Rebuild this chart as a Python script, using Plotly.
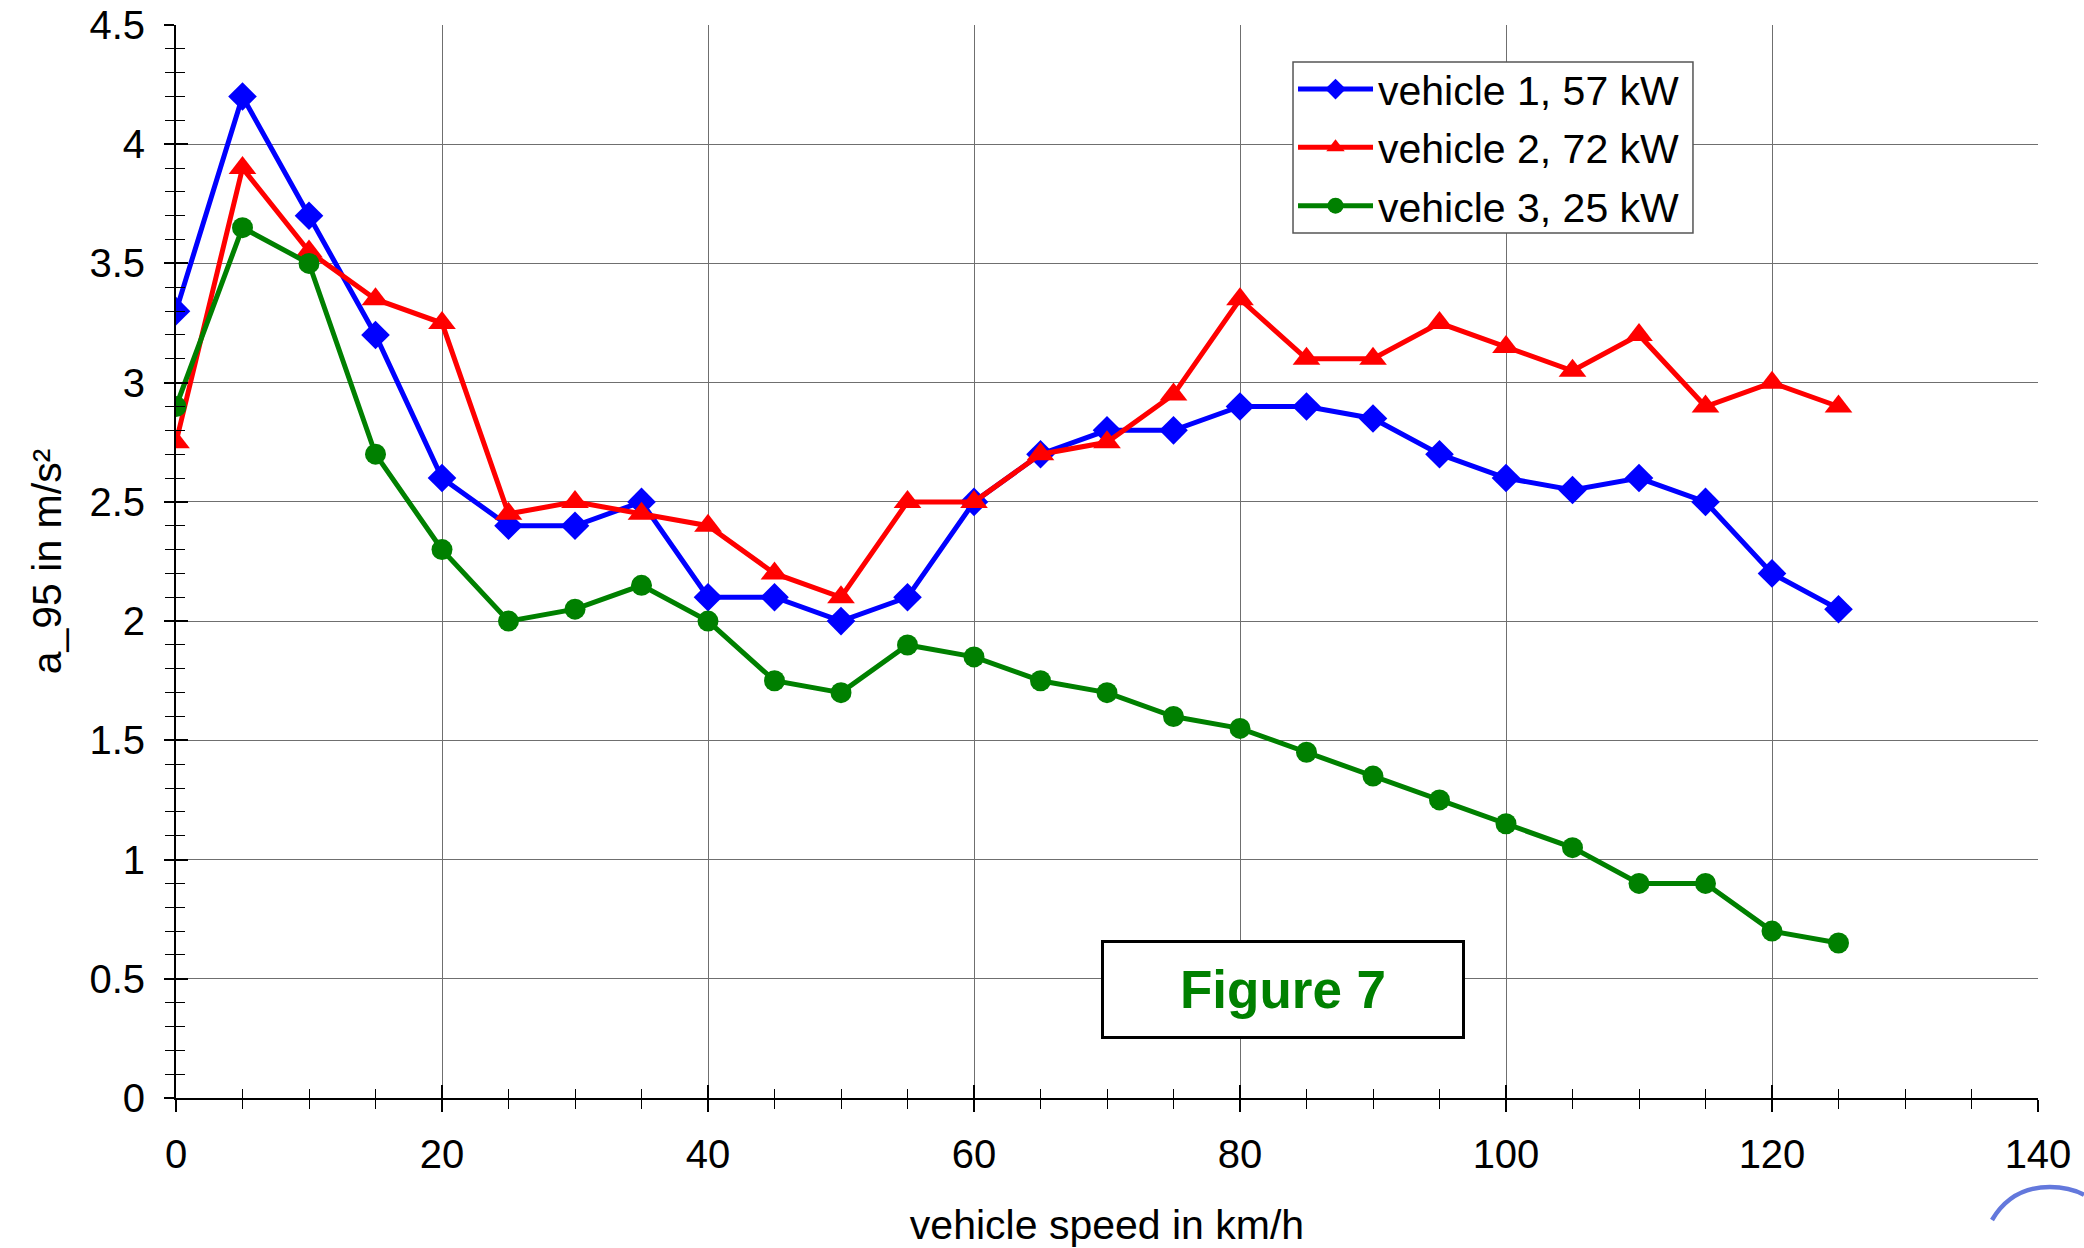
import plotly.graph_objects as go

# vehicle speed in km/h
speed = [0, 5, 10, 15, 20, 25, 30, 35, 40, 45, 50, 55, 60, 65,
         70, 75, 80, 85, 90, 95, 100, 105, 110, 115, 120, 125]

# a_95 in m/s² per vehicle
vehicle1 = [3.3, 4.2, 3.7, 3.2, 2.6, 2.4, 2.4, 2.5, 2.1, 2.1, 2.0, 2.1, 2.5, 2.7,
            2.8, 2.8, 2.9, 2.9, 2.85, 2.7, 2.6, 2.55, 2.6, 2.5, 2.2, 2.05]
vehicle2 = [2.75, 3.9, 3.55, 3.35, 3.25, 2.45, 2.5, 2.45, 2.4, 2.2, 2.1, 2.5, 2.5, 2.7,
            2.75, 2.95, 3.35, 3.1, 3.1, 3.25, 3.15, 3.05, 3.2, 2.9, 3.0, 2.9]
vehicle3 = [2.9, 3.65, 3.5, 2.7, 2.3, 2.0, 2.05, 2.15, 2.0, 1.75, 1.7, 1.9, 1.85, 1.75,
            1.7, 1.6, 1.55, 1.45, 1.35, 1.25, 1.15, 1.05, 0.9, 0.9, 0.7, 0.65]

series_names = ["vehicle 1, 57 kW", "vehicle 2, 72 kW", "vehicle 3, 25 kW"]

x_range = [0, 140]
y_range = [0, 4.5]

FONT = "Arial, Liberation Sans, sans-serif"
GRID = "#6f6f6f"

fig = go.Figure()

styles = [
    (vehicle1, "#0000ff", "diamond", 22),
    (vehicle2, "#ff0000", "triangle-up", 24),
    (vehicle3, "#008000", "circle", 21),
]
for i, (vals, color, symbol, size) in enumerate(styles):
    fig.add_trace(go.Scatter(
        x=speed, y=vals, name=series_names[i], mode="lines+markers",
        line=dict(color=color, width=5),
        marker=dict(symbol=symbol, size=size, color=color, line=dict(width=0)),
        legendgroup=f"g{i}",
    ))

# transparent trace that anchors the overlay axes carrying the inner tick halves
fig.add_trace(go.Scatter(
    x=speed, y=vehicle1, xaxis="x2", yaxis="y2", mode="markers",
    marker=dict(opacity=0), showlegend=False, hoverinfo="skip",
))

fig.update_layout(
    width=2084, height=1248,
    margin=dict(l=176, r=46, t=25, b=150, autoexpand=False),
    paper_bgcolor="white", plot_bgcolor="white",
    font=dict(family=FONT, color="black", size=40),
    showlegend=True,
    legend=dict(
        x=0.5999, y=0.9712, xanchor="left", yanchor="top",
        bgcolor="rgba(0,0,0,0)", borderwidth=0,
        font=dict(family=FONT, size=41, color="black"),
        tracegroupgap=2, itemwidth=75,
    ),
    xaxis=dict(
        range=x_range, dtick=20, tick0=0,
        showgrid=True, gridcolor=GRID, gridwidth=1.3,
        zeroline=False, showline=True, linecolor="black", linewidth=2,
        ticks="outside", ticklen=12, tickwidth=1.5, tickcolor="black",
        minor=dict(dtick=5, ticks="outside", ticklen=9, tickwidth=1.2,
                   tickcolor="black", showgrid=False),
        tickfont=dict(size=40), ticklabelstandoff=8,
        title=dict(text="vehicle speed in km/h", font=dict(size=41), standoff=40),
        automargin=False,
    ),
    yaxis=dict(
        range=y_range, dtick=0.5, tick0=0,
        showgrid=True, gridcolor=GRID, gridwidth=1.3,
        zeroline=False, showline=True, linecolor="black", linewidth=2,
        ticks="outside", ticklen=10, tickwidth=1.5, tickcolor="black",
        minor=dict(dtick=0.1, ticks="outside", ticklen=9, tickwidth=1.2,
                   tickcolor="black", showgrid=False),
        tickfont=dict(size=40), ticklabelstandoff=11,
        title=dict(text="a_95 in m/s²", font=dict(size=41), standoff=15),
        automargin=False,
    ),
    xaxis2=dict(
        range=x_range, dtick=20, tick0=0, overlaying="x", anchor="y", side="bottom",
        showgrid=False, zeroline=False, showline=False, showticklabels=False,
        ticks="inside", ticklen=13, tickwidth=1.5, tickcolor="black",
        minor=dict(dtick=5, ticks="inside", ticklen=9, tickwidth=1.2,
                   tickcolor="black", showgrid=False),
    ),
    yaxis2=dict(
        range=y_range, dtick=0.5, tick0=0, overlaying="y", anchor="x", side="left",
        showgrid=False, zeroline=False, showline=False, showticklabels=False,
        ticks="inside", ticklen=12, tickwidth=1.5, tickcolor="black",
        minor=dict(dtick=0.1, ticks="inside", ticklen=9, tickwidth=1.2,
                   tickcolor="black", showgrid=False),
    ),
)

# white legend frame, drawn over the grid
fig.add_shape(
    type="rect", xref="paper", yref="paper",
    x0=0.5999, x1=0.8147, y0=0.8062, y1=0.9655,
    fillcolor="white", line=dict(color="#555555", width=1.5), layer="above",
)

# boxed figure caption
fig.add_annotation(
    x=83.2, y=0.453, xref="x", yref="y",
    text="<b>Figure 7</b>", showarrow=False,
    font=dict(family=FONT, size=53, color="#008000"),
    bgcolor="white", bordercolor="black", borderwidth=3,
    width=358, height=93, borderpad=0, align="center", valign="middle",
)

# corner logo arc
fig.add_shape(
    type="path", xref="paper", yref="paper",
    path=("M 0.9753 -0.1137 Q 0.9858 -0.0829 1.0064 -0.0829 "
          "Q 1.0172 -0.0829 1.0247 -0.0903"),
    line=dict(color="#6378dc", width=4.5), layer="above",
)

fig.write_html("out.html")
